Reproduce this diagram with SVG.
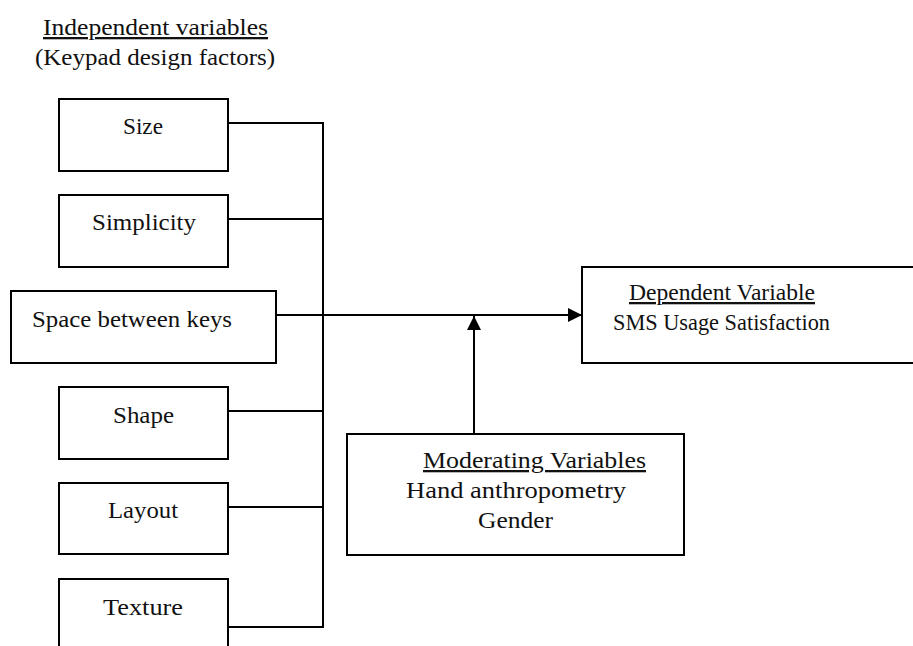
<svg xmlns="http://www.w3.org/2000/svg" width="913" height="646" viewBox="0 0 913 646">
<defs>
<style>
.box{fill:#fff;stroke:#000;stroke-width:2}
.ln{fill:none;stroke:#000;stroke-width:2}
text{font-family:"Liberation Serif","Times New Roman",serif;font-size:23px;fill:#111}
.u{text-decoration:underline}
</style>
<marker id="ah" viewBox="0 0 14 14" refX="14" refY="7" markerWidth="14" markerHeight="14" markerUnits="userSpaceOnUse" orient="auto">
<path d="M0,0 L14,7 L0,14 Z" fill="#000"/>
</marker>
</defs>
<g id="title">
<text x="43" y="35" class="u" textLength="225" lengthAdjust="spacingAndGlyphs">Independent variables</text>
<text x="35" y="65" textLength="240" lengthAdjust="spacingAndGlyphs">(Keypad design factors)</text>
</g>
<g id="connectors">
<line class="ln" x1="228" y1="123" x2="324" y2="123"/>
<line class="ln" x1="323" y1="122" x2="323" y2="628"/>
<line class="ln" x1="228" y1="219" x2="323" y2="219"/>
<line class="ln" x1="228" y1="411" x2="323" y2="411"/>
<line class="ln" x1="228" y1="507" x2="323" y2="507"/>
<line class="ln" x1="228" y1="627" x2="324" y2="627"/>
<line class="ln" x1="276" y1="315" x2="582" y2="315" marker-end="url(#ah)"/>
<line class="ln" x1="474" y1="435" x2="474" y2="316" marker-end="url(#ah)"/>
</g>
<g id="size">
<rect class="box" x="59" y="99" width="169" height="72"/>
<text x="123" y="134" textLength="40" lengthAdjust="spacingAndGlyphs">Size</text>
</g>
<g id="simplicity">
<rect class="box" x="59" y="195" width="169" height="72"/>
<text x="92" y="230" textLength="104" lengthAdjust="spacingAndGlyphs">Simplicity</text>
</g>
<g id="space">
<rect class="box" x="11" y="291" width="265" height="72"/>
<text x="32" y="327" textLength="200" lengthAdjust="spacingAndGlyphs">Space between keys</text>
</g>
<g id="shape">
<rect class="box" x="59" y="387" width="169" height="72"/>
<text x="113" y="423" textLength="61" lengthAdjust="spacingAndGlyphs">Shape</text>
</g>
<g id="layout">
<rect class="box" x="59" y="483" width="169" height="71"/>
<text x="108" y="518" textLength="70" lengthAdjust="spacingAndGlyphs">Layout</text>
</g>
<g id="texture">
<rect class="box" x="59" y="579" width="169" height="80"/>
<text x="103" y="615" textLength="80" lengthAdjust="spacingAndGlyphs">Texture</text>
</g>
<g id="dependent">
<rect class="box" x="582" y="267" width="345" height="96"/>
<text x="629" y="300" class="u" textLength="186" lengthAdjust="spacingAndGlyphs">Dependent Variable</text>
<text x="613" y="330" textLength="217" lengthAdjust="spacingAndGlyphs">SMS Usage Satisfaction</text>
</g>
<g id="moderating">
<rect class="box" x="347" y="434" width="337" height="121"/>
<text x="423" y="468" class="u" textLength="223" lengthAdjust="spacingAndGlyphs">Moderating Variables</text>
<text x="406" y="498" textLength="220" lengthAdjust="spacingAndGlyphs">Hand anthropometry</text>
<text x="478" y="528" textLength="75" lengthAdjust="spacingAndGlyphs">Gender</text>
</g>
</svg>
